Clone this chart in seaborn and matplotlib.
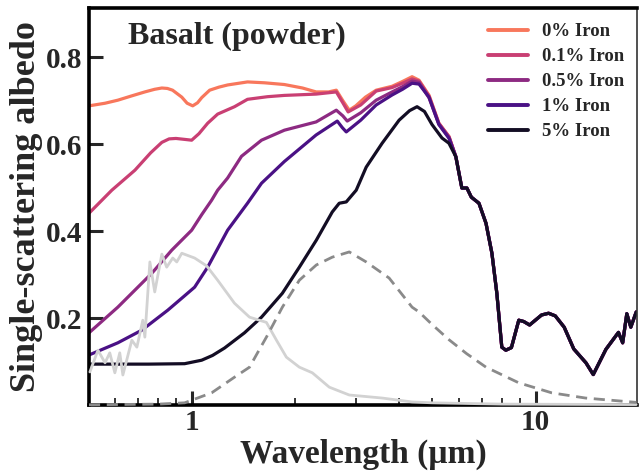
import numpy as np
import pandas as pd
import matplotlib
matplotlib.use("Agg")
import matplotlib.pyplot as plt
from matplotlib.ticker import LogLocator, NullFormatter
import seaborn as sns

# ---------------- data ----------------
# shared long-wavelength tail (all iron fractions coincide here)
tail_wl = [5.86, 6.10, 6.31, 6.50, 6.84, 7.17, 7.46, 7.71, 7.97, 8.19, 8.50, 8.93,
           9.23, 9.60, 10.4, 10.9, 11.4, 12.1, 12.9, 14.0, 14.7, 16.0, 17.4, 17.9,
           18.4, 18.9, 19.6]
tail_alb = [0.571, 0.499, 0.499, 0.478, 0.464, 0.418, 0.349, 0.257, 0.133, 0.126, 0.132, 0.195,
            0.192, 0.184, 0.207, 0.211, 0.205, 0.179, 0.129, 0.097, 0.070, 0.128, 0.167, 0.143,
            0.210, 0.179, 0.214]

wl_0 = [0.503, 0.560, 0.610, 0.670, 0.731, 0.780, 0.819, 0.850, 0.880, 0.936, 0.970, 1.007,
        1.040, 1.070, 1.128, 1.200, 1.272, 1.453, 1.627, 1.860, 2.100, 2.300, 2.500, 2.633,
        2.750, 2.871, 3.000, 3.200, 3.438, 3.825, 4.100, 4.372, 4.580, 4.900, 5.230, 5.600]
alb_0 = [0.688, 0.694, 0.701, 0.711, 0.720, 0.726, 0.729, 0.728, 0.724, 0.708, 0.694, 0.688,
         0.695, 0.707, 0.724, 0.731, 0.736, 0.743, 0.741, 0.737, 0.729, 0.720, 0.720, 0.724,
         0.700, 0.678, 0.688, 0.708, 0.724, 0.733, 0.744, 0.755, 0.747, 0.712, 0.648, 0.617]

wl_01 = [0.503, 0.586, 0.684, 0.760, 0.819, 0.860, 0.900, 0.950, 1.000, 1.050, 1.113, 1.190,
         1.332, 1.453, 1.660, 1.860, 2.300, 2.633, 2.750, 2.850, 3.100, 3.438, 3.825, 4.100,
         4.372, 4.580, 4.900, 5.230, 5.600]
alb_01 = [0.441, 0.494, 0.540, 0.580, 0.604, 0.612, 0.613, 0.611, 0.609, 0.624, 0.648, 0.669,
          0.686, 0.703, 0.709, 0.712, 0.715, 0.720, 0.695, 0.674, 0.690, 0.722, 0.730, 0.740,
          0.750, 0.745, 0.710, 0.648, 0.617]

wl_05 = [0.503, 0.610, 0.766, 0.875, 1.000, 1.070, 1.143, 1.190, 1.272, 1.396, 1.596, 1.860,
         2.300, 2.633, 2.750, 2.833, 3.100, 3.438, 3.825, 4.100, 4.372, 4.580, 4.900, 5.230, 5.600]
alb_05 = [0.166, 0.225, 0.303, 0.356, 0.402, 0.438, 0.471, 0.494, 0.522, 0.572, 0.609, 0.632,
          0.651, 0.678, 0.665, 0.653, 0.672, 0.701, 0.720, 0.732, 0.745, 0.742, 0.706, 0.646, 0.615]

wl_1 = [0.503, 0.610, 0.716, 0.852, 0.950, 1.020, 1.113, 1.272, 1.453, 1.596, 1.860, 2.300,
        2.650, 2.740, 2.814, 3.100, 3.438, 3.825, 4.100, 4.372, 4.580, 4.896, 5.230, 5.600]
alb_1 = [0.115, 0.143, 0.172, 0.218, 0.250, 0.271, 0.317, 0.402, 0.464, 0.510, 0.560, 0.621,
         0.653, 0.638, 0.628, 0.655, 0.690, 0.713, 0.726, 0.740, 0.738, 0.708, 0.645, 0.613]

wl_5 = [0.503, 0.750, 0.954, 1.069, 1.150, 1.246, 1.424, 1.596, 1.740, 1.835, 2.056, 2.303,
        2.563, 2.685, 2.814, 3.008, 3.216, 3.578, 4.008, 4.300, 4.520, 4.750, 4.996, 5.341, 5.595]
alb_5 = [0.094, 0.094, 0.095, 0.103, 0.114, 0.131, 0.166, 0.202, 0.236, 0.257, 0.317, 0.379,
         0.444, 0.464, 0.467, 0.494, 0.547, 0.602, 0.655, 0.677, 0.686, 0.675, 0.645, 0.614, 0.602]

labels = ["0% Iron", "0.1% Iron", "0.5% Iron", "1% Iron", "5% Iron"]
colors = ["#f8775c", "#c93f73", "#8d2a82", "#4a1185", "#130d24"]

# stellar spectrum (light grey) and thermal emission (dashed grey), normalised
star_wl = [0.506, 0.534, 0.560, 0.578, 0.598, 0.618, 0.631, 0.670, 0.693, 0.721, 0.731, 0.756,
           0.781, 0.819, 0.846, 0.881, 0.905, 0.936, 1.020, 1.105, 1.190, 1.332, 1.473, 1.649,
           1.764, 1.885, 2.056, 2.243, 2.512, 2.871, 3.578, 4.372, 5.000, 8.000, 19.6]
star_flux = [0.076, 0.126, 0.097, 0.120, 0.074, 0.120, 0.069, 0.149, 0.133, 0.195, 0.156, 0.329,
             0.260, 0.347, 0.317, 0.338, 0.329, 0.349, 0.338, 0.320, 0.287, 0.234, 0.202, 0.190,
             0.149, 0.110, 0.087, 0.074, 0.041, 0.023, 0.016, 0.007, 0.005, 0.002, 0.001]

therm_wl = [0.503, 0.800, 0.954, 1.143, 1.332, 1.473, 1.554, 1.649, 1.835, 2.056, 2.303, 2.563,
            2.871, 3.216, 3.749, 4.372, 4.580, 5.000, 5.600, 6.300, 7.170, 8.930, 11.13, 13.96, 19.6]
therm_flux = [0.0005, 0.002, 0.005, 0.028, 0.064, 0.087, 0.120, 0.156, 0.225, 0.287, 0.322, 0.340,
              0.352, 0.329, 0.292, 0.225, 0.214, 0.185, 0.150, 0.118, 0.087, 0.051, 0.028, 0.016, 0.006]

# ---------------- figure ----------------
sns.set_style("ticks")
plt.rcParams["font.family"] = ["Liberation Serif", "DejaVu Serif"]
plt.rcParams["font.weight"] = "bold"
plt.rcParams["axes.labelweight"] = "bold"

fig = plt.figure(figsize=(6.39, 4.75), dpi=100)
ax = fig.add_axes([89 / 639, 1 - 405 / 475, (637 - 89) / 639, (405 - 8) / 475])

series = [(wl_0, alb_0), (wl_01, alb_01), (wl_05, alb_05), (wl_1, alb_1), (wl_5, alb_5)]
for (wl, alb), lab, col in zip(series, labels, colors):
    df = pd.DataFrame({"wl": list(wl) + tail_wl, "alb": list(alb) + tail_alb})
    sns.lineplot(data=df, x="wl", y="alb", color=col, lw=2.3, label=lab, ax=ax,
                 estimator=None, sort=False, zorder=2)

sns.lineplot(x=star_wl, y=star_flux, color="#d2d2d2", lw=2.0, ax=ax, estimator=None,
             sort=False, zorder=3, legend=False)
sns.lineplot(x=therm_wl, y=therm_flux, color="#8a8a8a", lw=2.0, ax=ax, estimator=None,
             sort=False, zorder=3, legend=False, linestyle=(0, (4, 2.4)))
for ln in ax.lines[-2:]:
    ln.set_clip_on(False)

ax.set_xscale("log")
ax.set_xlim(0.503, 19.7)
ax.set_ylim(0.0, 0.913)
ax.set_xticks([1, 10])
ax.set_xticklabels(["1", "10"])
ax.xaxis.set_minor_locator(LogLocator(base=10, subs=np.arange(2, 10)))
ax.xaxis.set_minor_formatter(NullFormatter())
ax.set_yticks([0.2, 0.4, 0.6, 0.8])
ax.set_yticklabels(["0.2", "0.4", "0.6", "0.8"])

ax.tick_params(axis="both", which="major", direction="in", length=10, width=2.2,
               labelsize=21, top=False, right=False)
ax.tick_params(axis="x", which="major", pad=3)
ax.tick_params(axis="y", which="major", pad=5)
ax.tick_params(axis="x", which="minor", direction="in", length=5, width=1.3, top=False)
for t in ax.get_xticklabels() + ax.get_yticklabels():
    t.set_fontweight("bold")

for s in ["left", "bottom", "top"]:
    ax.spines[s].set_linewidth(2.6)
    ax.spines[s].set_color("black")
ax.spines["right"].set_linewidth(1.2)
ax.spines["right"].set_color("#333333")

ax.set_xlabel("Wavelength (µm)", fontsize=24, fontweight="bold", labelpad=2)
ax.set_ylabel("Single-scattering albedo", fontsize=26, fontweight="bold", labelpad=2)

fig.text(128 / 639, 1 - 44 / 475, "Basalt (powder)", fontsize=23, fontweight="bold",
         ha="left", va="baseline")

leg = ax.legend(loc="upper left", bbox_to_anchor=(488 / 639, 1 - 23 / 475),
                bbox_transform=fig.transFigure, frameon=False,
                handlelength=2.13, handletextpad=0.75, labelspacing=0.42,
                borderpad=0, borderaxespad=0, prop={"weight": "bold", "size": 13.5})
for h in leg.get_lines():
    h.set_linewidth(2.8)

fig.savefig("out.png", dpi=100)
